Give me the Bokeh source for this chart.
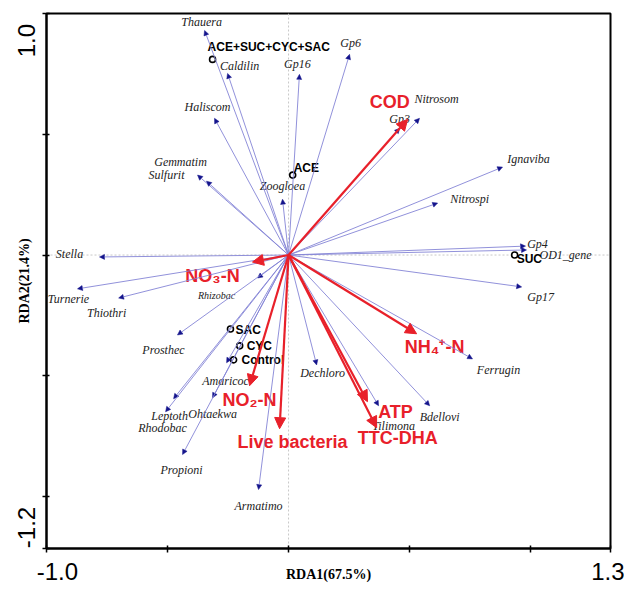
from bokeh.plotting import figure
from bokeh.models import ColumnDataSource, Arrow, NormalHead, Span, Range1d, FixedTicker
from bokeh.core.properties import value
from bokeh.embed import file_html
from bokeh.resources import INLINE

# ---------------- data ----------------
species = ["Thauera", "Caldilin", "Gp16", "Gp6", "Haliscom", "Gemmatim", "Sulfurit",
           "Zoogloea", "Gp3", "Nitrosom", "Ignaviba", "Nitrospi", "Gp4", "OD1_gene",
           "Gp17", "Ferrugin", "Dechloro", "Bdellovi", "Tilimona", "Rhizobac", "Stella",
           "Turnerie", "Thiothri", "Prosthec", "Amaricoc", "Leptoth", "Ohtaekwa",
           "Rhodobac", "Propioni", "Armatimo"]
species_x = [-0.347, -0.252, 0.045, 0.252, -0.306, -0.376, -0.339, -0.025, 0.459, 0.541,
             0.884, 0.616, 0.979, 0.983, 0.963, 0.760, 0.116, 0.583, 0.372, -0.128,
             -0.781, -0.872, -0.702, -0.459, -0.256, -0.475, -0.314, -0.508, -0.438, -0.124]
species_y = [0.930, 0.752, 0.748, 0.831, 0.566, 0.331, 0.306, 0.231, 0.525, 0.566,
             0.364, 0.215, 0.037, 0.021, -0.132, -0.430, -0.455, -0.624, -0.624, -0.095,
             -0.008, -0.140, -0.178, -0.331, -0.446, -0.595, -0.591, -0.649, -0.826, -0.971]

env = ["COD", "NO\u2083-N", "NH\u2084\u207a-N", "NO\u2082-N", "Live bacteria", "ATP", "TTC-DHA"]
env_x = [0.492, -0.149, 0.529, -0.161, -0.037, 0.326, 0.364]
env_y = [0.562, -0.029, -0.326, -0.541, -0.719, -0.607, -0.715]

samples = ["ACE+SUC+CYC+SAC", "ACE", "SUC", "SAC", "CYC", "Control"]
sample_x = [-0.314, 0.017, 0.934, -0.240, -0.202, -0.227]
sample_y = [0.810, 0.331, 0.000, -0.306, -0.376, -0.434]

x_ticks = [-1.0, -0.5, 0.0, 0.5, 1.0, 1.33]
y_ticks = [-1.215, -1.0, -0.5, 0.0, 0.5, 1.0]
x_tick_labels = ["-1.0", "1.3"]
y_tick_labels = ["1.0", "-1.2"]
x_title = "RDA1(67.5%)"
y_title = "RDA2(21.4%)"

# ---------------- label placement ----------------
# where the end-of-axis numbers sit (data units along the axis)
x_label_pos = [-0.955, 1.322]
y_label_pos = [0.888, -1.128]
# text offsets from arrow tips / points (screen px, +dy = down)
sp_off = {
    "Thauera": (-3, -8), "Caldilin": (12, -7), "Gp16": (-2, -10), "Gp6": (1, -11),
    "Haliscom": (-7, -11), "Gemmatim": (-17, -13), "Sulfurit": (-40, -6),
    "Zoogloea": (0, -13), "Gp3": (0, -9), "Nitrosom": (17, -19), "Ignaviba": (26, -8),
    "Nitrospi": (32, -4), "Gp4": (12, -2), "OD1_gene": (39, 5), "Gp17": (19, 10),
    "Ferrugin": (26, 11), "Dechloro": (6, 8), "Bdellovi": (10, 11), "Tilimona": (15, 20),
    "Rhizobac": (-41, 18), "Stella": (-30, -3), "Turnerie": (-9, 10), "Thiothri": (-12, 15),
    "Prosthec": (-14, 15), "Amaricoc": (-1, 18), "Leptoth": (-4, 17), "Ohtaekwa": (0, 16),
    "Rhodobac": (-3, 16), "Propioni": (-1, 15), "Armatimo": (0, 16),
}
env_off = [(-18, -17), (-40, 14), (18, 13), (0, 14), (13, 13), (28, 10), (21, 10)]
smp_off = [(-5, -12), (1, -7), (2, 4), (5, 1), (7, 0), (8, 0)]

BLUE_LINE = "#8585d6"
BLUE_HEAD = "#14148c"
RED = "#e8202a"

p = figure(width=624, height=606, output_backend="svg", toolbar_location=None,
           x_range=Range1d(-1.0, 1.33), y_range=Range1d(-1.215, 1.0),
           min_border_left=46, min_border_right=14, min_border_top=13, min_border_bottom=58)
p.grid.visible = False
p.outline_line_color = "black"
p.outline_line_width = 2
p.background_fill_color = "white"

p.xaxis.ticker = FixedTicker(ticks=x_label_pos, minor_ticks=x_ticks)
p.yaxis.ticker = FixedTicker(ticks=y_label_pos, minor_ticks=y_ticks)
p.xaxis.major_label_overrides = dict(zip(x_label_pos, x_tick_labels))
p.yaxis.major_label_overrides = dict(zip(y_label_pos, y_tick_labels))
p.yaxis.major_label_orientation = "parallel"

for ax in (p.xaxis[0], p.yaxis[0]):
    ax.axis_line_width = 2
    ax.major_tick_line_color = None
    ax.major_tick_in = 0
    ax.major_tick_out = 0
    ax.minor_tick_line_color = "black"
    ax.minor_tick_line_width = 1.5
    ax.minor_tick_in = 3
    ax.minor_tick_out = 4
    ax.major_label_text_font = "Liberation Sans"
    ax.major_label_text_font_size = "24px"
    ax.major_label_text_color = "black"
    ax.axis_label_text_font = "Liberation Serif"
    ax.axis_label_text_font_style = "bold"
    ax.axis_label_text_font_size = "14px"
    ax.axis_label_text_color = "black"
p.xaxis.major_label_standoff = 10
p.yaxis.major_label_standoff = 7
p.xaxis.axis_label = x_title
p.yaxis.axis_label = y_title
p.xaxis.axis_label_standoff = -16
p.yaxis.axis_label_standoff = -16

p.add_layout(Span(location=0, dimension="height", line_color="#c8c8c8",
                  line_dash="2 2", line_width=1, level="underlay"))
p.add_layout(Span(location=0, dimension="width", line_color="#c8c8c8",
                  line_dash="2 2", line_width=1, level="underlay"))

# species arrows
n = len(species)
sp_src = ColumnDataSource(dict(
    x0=[0.0] * n, y0=[0.0] * n, x=species_x, y=species_y, name=species,
    dx=[sp_off[s][0] for s in species], dy=[sp_off[s][1] for s in species],
    fs=["10px" if s == "Rhizobac" else "12px" for s in species]))
p.add_layout(Arrow(source=sp_src, x_start="x0", y_start="y0", x_end="x", y_end="y",
                   line_color=BLUE_LINE, line_width=0.9,
                   end=NormalHead(size=5, fill_color=BLUE_HEAD, line_color=BLUE_HEAD, line_width=0.5)))
p.text(x="x", y="y", text="name", x_offset="dx", y_offset="dy", source=sp_src,
       text_font=value("Liberation Serif"), text_font_style="italic",
       text_font_size="fs", text_color="#222222",
       text_align="center", text_baseline="middle")

# environmental arrows
m = len(env)
env_src = ColumnDataSource(dict(
    x0=[0.0] * m, y0=[0.0] * m, x=env_x, y=env_y, name=env,
    dx=[o[0] for o in env_off], dy=[o[1] for o in env_off]))
p.add_layout(Arrow(source=env_src, x_start="x0", y_start="y0", x_end="x", y_end="y",
                   line_color=RED, line_width=2.2,
                   end=NormalHead(size=11, fill_color=RED, line_color=RED, line_width=1)))
p.text(x="x", y="y", text="name", x_offset="dx", y_offset="dy", source=env_src,
       text_font=value("Liberation Sans"), text_font_style="bold",
       text_font_size="18px", text_color=RED,
       text_align="center", text_baseline="middle")

# samples
smp_src = ColumnDataSource(dict(x=sample_x, y=sample_y, name=samples,
                                dx=[o[0] for o in smp_off], dy=[o[1] for o in smp_off]))
p.scatter(x="x", y="y", source=smp_src, marker="circle", size=6,
          fill_color="white", line_color="black", line_width=1.6)
p.text(x="x", y="y", text="name", x_offset="dx", y_offset="dy", source=smp_src,
       text_font=value("Liberation Sans"), text_font_style="bold",
       text_font_size="12px", text_color="black",
       text_align="left", text_baseline="middle")

open("out.html", "w").write(file_html(p, INLINE))
